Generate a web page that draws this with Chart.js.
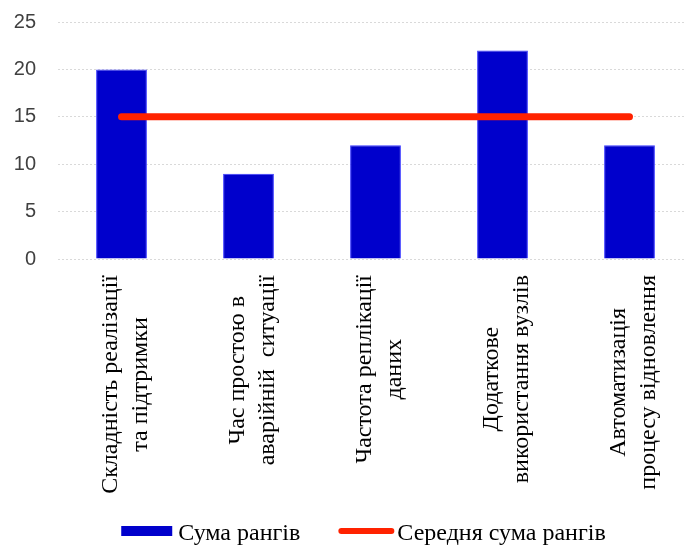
<!DOCTYPE html>
<html>
<head>
<meta charset="utf-8">
<script src="https://cdn.jsdelivr.net/npm/chart.js@4.4.1/dist/chart.umd.min.js"></script>
<style>
  html, body { margin: 0; padding: 0; background: #fff; overflow: hidden; }
  #wrap { width: 700px; height: 545px; }
</style>
</head>
<body>
<div id="wrap"><canvas id="chart"></canvas></div>
<script>
// categories (each one split into two lines like in the original)
const categories = [
  ["Складність реалізації", "та підтримки"],
  ["Час простою в", "аварійній  ситуації"],
  ["Частота реплікації", "даних"],
  ["Додаткове", "використання вузлів"],
  ["Автоматизація", "процесу відновлення"]
];
const rankSums = [20, 9, 12, 22, 12];
const meanRankSum = [15, 15, 15, 15, 15];
const yTicks = [0, 5, 10, 15, 20, 25];

const seriesNames = ["Сума рангів", "Середня сума рангів"];
const blue = "#0000cc";
const red = "#ff2200";
const serif = "'Liberation Serif', 'Times New Roman', serif";

// rotated two-line category labels, centred on each tick
const rotatedLabels = {
  id: "rotatedLabels",
  afterDraw(chart) {
    const ctx = chart.ctx;
    const xs = chart.scales.x;
    const top = chart.chartArea.bottom + 16;
    const lineH = 30;
    ctx.save();
    ctx.font = "24px " + serif;
    ctx.fillStyle = "#000";
    ctx.textAlign = "center";
    ctx.textBaseline = "middle";
    categories.forEach((lines, i) => {
      const x = xs.getPixelForValue(i) + 4;
      const w = Math.max(...lines.map(l => ctx.measureText(l).width));
      ctx.save();
      ctx.translate(x, top + w / 2);
      ctx.rotate(-Math.PI / 2);
      lines.forEach((l, j) => {
        ctx.fillText(l, 0, (j - (lines.length - 1) / 2) * lineH);
      });
      ctx.restore();
    });
    ctx.restore();
  }
};

// legend drawn by hand: wide blue box, thick red line, serif text
const bottomLegend = {
  id: "bottomLegend",
  afterDraw(chart) {
    const ctx = chart.ctx;
    const y = 531;
    ctx.save();
    ctx.font = "24px " + serif;
    const t1 = ctx.measureText(seriesNames[0]).width;
    const t2 = ctx.measureText(seriesNames[1]).width;
    const total = 51 + 6 + t1 + 38 + 56 + 3 + t2;
    let x = 363.5 - total / 2;
    ctx.fillStyle = blue;
    ctx.fillRect(x, y - 5, 51, 10);
    x += 57;
    ctx.fillStyle = "#000";
    ctx.textBaseline = "alphabetic";
    ctx.fillText(seriesNames[0], x, y + 9);
    x += t1 + 38;
    ctx.strokeStyle = red;
    ctx.lineWidth = 6;
    ctx.lineCap = "round";
    ctx.beginPath();
    ctx.moveTo(x + 3, y);
    ctx.lineTo(x + 53, y);
    ctx.stroke();
    x += 59;
    ctx.fillText(seriesNames[1], x, y + 9);
    ctx.restore();
  }
};

new Chart(document.getElementById("chart"), {
  data: {
    labels: categories,
    datasets: [
      {
        type: "bar",
        label: seriesNames[0],
        data: rankSums,
        backgroundColor: blue,
        borderColor: "#3a3aff",
        borderWidth: 1,
        categoryPercentage: 1,
        barPercentage: 0.4,
        order: 2
      },
      {
        type: "line",
        label: seriesNames[1],
        data: meanRankSum,
        borderColor: red,
        borderWidth: 7,
        borderCapStyle: "round",
        pointRadius: 0,
        fill: false,
        order: 1
      }
    ]
  },
  options: {
    responsive: true,
    maintainAspectRatio: false,
    animation: false,
    layout: { autoPadding: false, padding: { top: 1, right: 7, left: 0, bottom: 0 } },
    plugins: {
      tooltip: { enabled: false },
      legend: { display: false }
    },
    scales: {
      x: {
        grid: { display: false },
        border: { display: false },
        ticks: { display: false },
        afterFit: s => { s.height = 286; }
      },
      y: {
        min: 0,
        max: 25,
        afterBuildTicks: s => { s.ticks = yTicks.map(v => ({ value: v })); },
        afterFit: s => { s.width = 58; s.paddingTop = 22; s.paddingBottom = 0; },
        grid: { color: "#d9d9d9", lineWidth: 1, drawTicks: false },
        border: { display: false, dash: [2, 2] },
        ticks: {
          padding: 22,
          color: "#404040",
          font: { family: "'Liberation Sans'", size: 20 }
        }
      }
    }
  },
  plugins: [rotatedLabels, bottomLegend]
});
</script>
</body>
</html>
